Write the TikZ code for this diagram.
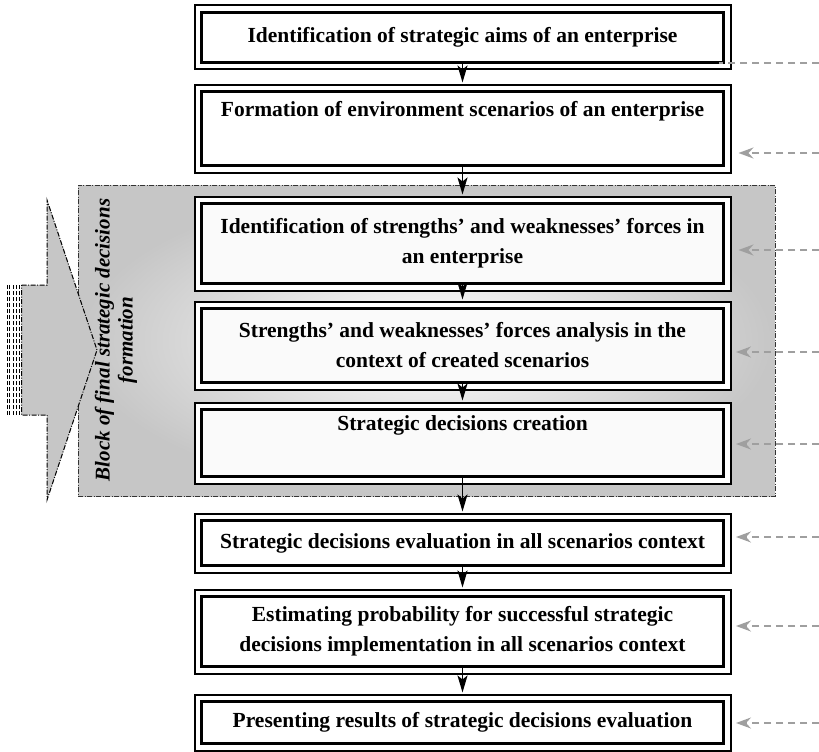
\documentclass[tikz,border=0pt]{standalone}
\usepackage{fontspec}
\setmainfont{Liberation Serif}
\usetikzlibrary{arrows.meta}
\pgfdeclarelayer{bg}
\pgfdeclarelayer{frames}
\pgfsetlayers{bg,frames,main}
\begin{document}
\begin{tikzpicture}[x=1pt,y=-1pt,
 box/.style={draw=black, line width=3pt, fill=white, minimum width=522pt, inner sep=0pt, align=center, font=\bfseries\fontsize{21.5}{30}\selectfont},
 sbox/.style={box, fill=gray!4},
 frame/.style={draw=black, line width=2pt, fill=white},
 flow/.style={line width=1.8pt, -{Stealth[length=17pt,width=10pt,inset=4pt,fill=black]}, shorten >=7.5pt},
 feed/.style={draw=gray!75, line width=1.8pt, dash pattern=on 7pt off 5pt, -{Stealth[length=15pt,width=11pt,inset=5pt,fill=gray!75,sep=0pt]}, shorten >=11pt},
 dashdot/.style={dash pattern=on 5pt off 1.5pt on 1pt off 1.5pt}
]
\useasboundingbox (0,0) rectangle (819,752);

\begin{pgfonlayer}{bg}
 \node[draw=black!80, line width=0.8pt, dashdot, minimum width=697pt, minimum height=311pt,
   inner color=white, outer color=gray!45] (blk) at (426.5,340.5) {};
 \foreach \xx in {7,9.5,13,16,19}
   \draw[line width=1pt, dash pattern=on 4pt off 2pt] (\xx,285) -- (\xx,415);
 \draw[dashdot, line width=1pt, fill=gray!45] (21.5,285) -- (47,285) -- (47,200) -- (97,350)
   -- (47,500) -- (47,415) -- (21.5,415) -- cycle;
 \node[rotate=90, align=center, font=\bfseries\itshape\fontsize{21}{23}\selectfont] (lbl) at (116,340)
   {Block of final strategic decisions\\formation};
\end{pgfonlayer}

\node[box, minimum height=50pt] (b1) at (462.5,37.5) {Identification of strategic aims of an enterprise};
\node[box, minimum height=74pt] (b2) at (462.5,128.5) {Formation of environment scenarios of an enterprise\\\strut};
\node[sbox, minimum height=80pt] (b3) at (462.5,243.5) {Identification of strengths’ and weaknesses’ forces in\\an enterprise};
\node[sbox, minimum height=74pt] (b4) at (462.5,345.5) {Strengths’ and weaknesses’ forces analysis in the\\context of created scenarios};
\node[sbox, minimum height=67pt] (b5) at (462.5,443) {Strategic decisions creation\\\strut};
\node[box, minimum height=45pt] (b6) at (462.5,543) {Strategic decisions evaluation in all scenarios context};
\node[box, minimum height=70pt] (b7) at (462.5,631.5) {Estimating probability for successful strategic\\decisions implementation in all scenarios context};
\node[box, minimum height=42pt] (b8) at (462.5,722.5) {Presenting results of strategic decisions evaluation};

\begin{pgfonlayer}{frames}
 \foreach \n in {b1,b2,b3,b4,b5,b6,b7,b8}
   \draw[frame] ([shift={(-5.5pt,5.5pt)}]\n.north west) rectangle ([shift={(5.5pt,-5.5pt)}]\n.south east);
\end{pgfonlayer}

\draw[flow] (b1.south) -- (b2.north);
\draw[flow] (b2.south) -- (b3.north);
\draw[flow] (b3.south) -- (b4.north);
\draw[flow] (b4.south) -- (b5.north);
\draw[flow] (b5.south) -- (b6.north);
\draw[flow] (b6.south) -- (b7.north);
\draw[flow] (b7.south) -- (b8.north);

\coordinate (r1) at (819,63);
\coordinate (r2) at (819,153);
\coordinate (r3) at (819,250);
\coordinate (r4) at (819,352);
\coordinate (r5) at (819,444);
\coordinate (r6) at (819,537);
\coordinate (r7) at (819,626);
\coordinate (r8) at (819,723);
\draw[feed, -, shorten >=-6.5pt] (r1) -- (r1 -| b1.east);
\draw[feed, shorten >=13.5pt] (r2) -- (r2 -| b2.east);
\draw[feed, shorten >=13.5pt] (r3) -- (r3 -| b3.east);
\draw[feed] (r4) -- (r4 -| b4.east);
\draw[feed] (r5) -- (r5 -| b5.east);
\draw[feed] (r6) -- (r6 -| b6.east);
\draw[feed] (r7) -- (r7 -| b7.east);
\draw[feed] (r8) -- (r8 -| b8.east);
\end{tikzpicture}
\end{document}
